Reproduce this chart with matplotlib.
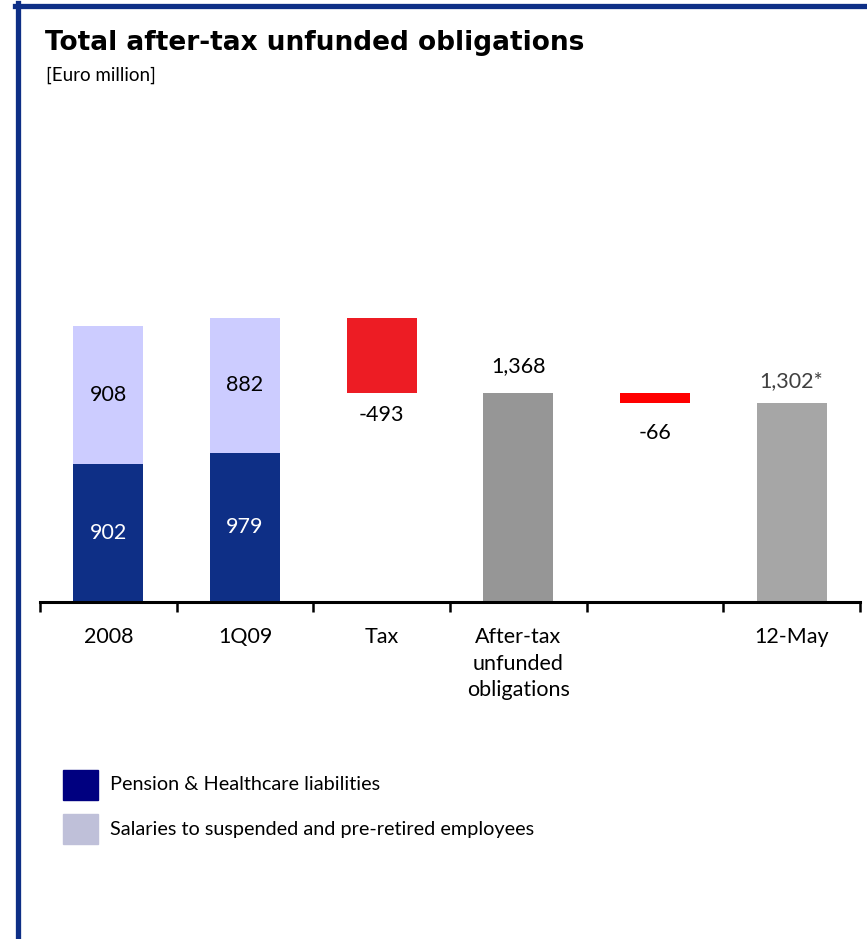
import matplotlib.pyplot as plt
from matplotlib.lines import Line2D
from matplotlib.patches import Rectangle

plt.rcParams['font.family'] = ['Lato', 'DejaVu Sans']

# values in Euro million
categories = ['2008', '1Q09', 'Tax', 'After-tax\nunfunded\nobligations', '', '12-May']
pension = [902, 979]
salaries = [908, 882]
tax = -493
after_tax = 1368
adjustment = -66
may_total = 1302

navy = '#0e2f86'
lavender = '#ccccff'

fig = plt.figure(figsize=(8.67, 9.39), dpi=100)
W, H = 867, 939

# frame lines on top and left
fig.add_artist(Line2D([15 / W, 1], [1 - 5.5 / H, 1 - 5.5 / H], color=navy, lw=3.8,
                      transform=fig.transFigure))
fig.add_artist(Line2D([17.5 / W, 17.5 / W], [0, 1 - 3 / H], color=navy, lw=3.8,
                      transform=fig.transFigure))

fig.text(45 / W, 1 - 43 / H, 'Total after-tax unfunded obligations', fontsize=19,
         fontweight='bold', va='center', ha='left', family='DejaVu Sans')
fig.text(46 / W, 1 - 75 / H, '[Euro million]', fontsize=13.5, va='center', ha='left')

ax = fig.add_axes([40 / W, 1 - 602 / H, 820 / W, 502 / H])
w = 0.51

# stacked start columns
ax.bar([0, 1], pension, w, color=navy)
ax.bar([0, 1], salaries, w, bottom=pension, color=lavender)
for i in range(2):
    ax.text(i, pension[i] / 2, str(pension[i]), ha='center', va='center',
            color='white', fontsize=15.5)
    ax.text(i, pension[i] + salaries[i] / 2, str(salaries[i]), ha='center',
            va='center', color='black', fontsize=15.5)

# tax step
start = pension[1] + salaries[1]
ax.bar(2, -tax, w, bottom=start + tax, color='#ed1c24')
ax.text(2, start + tax - 142, f'{tax:,}', ha='center', va='center', fontsize=15.5)

ax.bar(3, after_tax, w, color='#969696')
ax.text(3, after_tax + 180, f'{after_tax:,}', ha='center', va='center', fontsize=15.5)

ax.bar(4, -adjustment, w, bottom=after_tax + adjustment, color='#ff0000')
ax.text(4, after_tax + adjustment - 194, f'{adjustment:,}', ha='center', va='center',
        fontsize=15.5)

ax.bar(5, may_total, w, color='#a6a6a6')
ax.text(5, may_total + 147, f'{may_total:,}*', ha='center', va='center',
        fontsize=15.5, color='#404040')

ax.set_xlim(-0.5, 5.5)
ax.set_ylim(0, 502 / 0.1525)
for s in ['top', 'right', 'left']:
    ax.spines[s].set_visible(False)
ax.spines['bottom'].set_linewidth(2.2)
ax.set_yticks([])
ax.set_xticks([i - 0.5 for i in range(len(categories) + 1)])
ax.set_xticklabels([])
ax.tick_params(axis='x', direction='out', length=7, width=1.8)
for i, c in enumerate(categories):
    ax.text(i, -165, c, ha='center', va='top', fontsize=15.5, linespacing=1.4)

# legend
for y, col, lab in [(785, '#000080', 'Pension & Healthcare liabilities'),
                    (829, '#bfc0d9', 'Salaries to suspended and pre-retired employees')]:
    fig.add_artist(Rectangle((63 / W, 1 - (y + 15) / H), 35 / W, 30 / H, color=col,
                             transform=fig.transFigure))
    fig.text(110 / W, 1 - y / H, lab, fontsize=14.3, va='center', ha='left')

fig.savefig('out.png', dpi=100)
